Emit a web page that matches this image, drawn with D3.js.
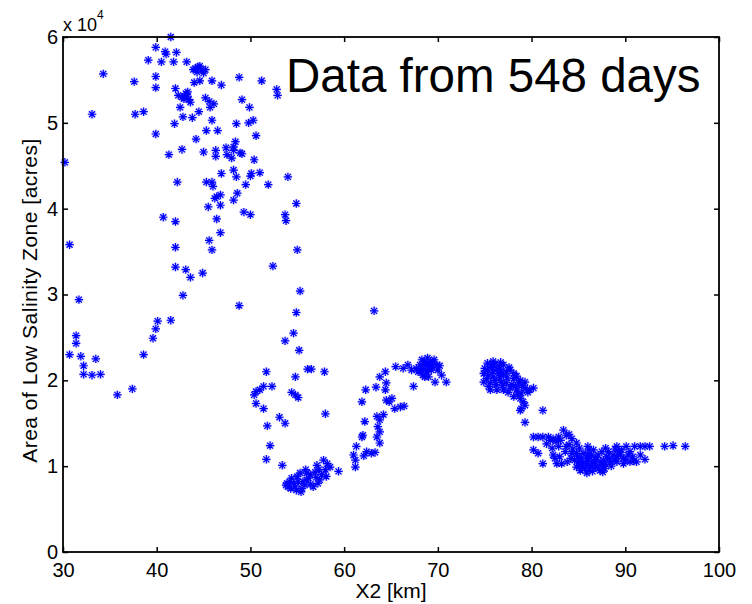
<!DOCTYPE html>
<html>
<head>
<meta charset="utf-8" />
<title>Low Salinity Zone area vs X2</title>
<script src="https://d3js.org/d3.v7.min.js"></script>
<style>
  body { margin: 0; background: #fff; }
  svg text { font-family: "Liberation Sans", Arial, Helvetica, sans-serif; fill: #000; }
</style>
</head>
<body>
<div id="chart"></div>
<script>
// axis limits and ticks (area in units of 10^4 acres)
var xDomain = [30, 100];
var yDomain = [0, 6];
var xTicks = [30, 40, 50, 60, 70, 80, 90, 100];
var yTicks = [0, 1, 2, 3, 4, 5, 6];

// [X2 km, area 10^4 acres], by region
var upstreamCloud = [
  [41.5,6.00],[39.9,5.88],[40.9,5.83],[41.0,5.80],[42.1,5.82],[39.1,5.73],[40.5,5.71],[41.8,5.71],[43.2,5.71],
  [34.3,5.57],[37.6,5.48],[39.9,5.54],[39.9,5.41],[43.9,5.62],[44.4,5.65],[44.8,5.62],[44.3,5.59],[45.2,5.62],
  [44.6,5.49],[44.0,5.47],[45.9,5.49],[42.0,5.40],[42.3,5.32],[42.7,5.30],[43.1,5.34],[42.9,5.28],[43.4,5.27],
  [43.6,5.24],[43.3,5.36],[42.5,5.18],[45.2,5.29],[45.6,5.25],[45.7,5.18],[46.1,5.22],[44.5,5.13],[33.1,5.10],
  [37.7,5.10],[38.6,5.13],[42.8,5.07],[43.8,5.06],[45.9,5.03],[41.9,4.99],[39.9,4.87],[45.3,4.91],[44.2,4.81],
  [46.5,4.91],[42.7,4.69],[41.3,4.63],[45.0,4.66],[46.3,4.68],[46.3,4.61],[30.2,4.54],[42.2,4.31],[45.3,4.31],
  [45.9,4.31],[46.0,4.26],[48.8,5.53],[51.2,5.49],[52.8,5.39],[52.9,5.32],[49.1,5.27],[49.9,5.18],[46.9,5.44],
  [48.5,4.99],[49.8,5.00],[50.3,5.03],[50.6,4.85],[47.4,4.71],[47.5,4.63],[48.2,4.72],[48.4,4.78],[48.9,4.65],
  [48.0,4.59],[48.2,4.68],[49.1,4.64],[50.4,4.57],[46.9,4.41],[48.2,4.45],[48.5,4.37],[50.1,4.41],[51.0,4.42],
  [50.0,4.38],[49.5,4.28],[51.9,4.28],[54.0,4.37],[46.4,4.14],[46.8,4.16],[46.2,4.12],[45.5,4.02],[46.8,4.04],
  [48.2,4.10],[48.6,4.18],[49.3,3.96],[50.0,3.93],[53.7,3.93],[53.8,3.86],[46.4,3.88],[40.7,3.90],[42.0,3.85],
  [54.9,4.06],[45.6,3.63],[46.8,3.72],[30.7,3.58],[42.0,3.55],[45.9,3.52],[42.0,3.32],[43.1,3.29],[43.6,3.20],
  [44.9,3.25],[52.4,3.33],[55.0,3.52],[44.6,5.66],[45.0,5.58],[44.1,5.63],[43.0,5.30],[43.3,5.31]
];

var fallingLimb = [
  [31.7,2.94],[42.8,2.99],[48.8,2.87],[55.3,3.04],[54.9,2.79],[40.1,2.69],[41.5,2.70],[39.9,2.60],[39.6,2.49],
  [31.4,2.52],[31.4,2.43],[54.6,2.55],[53.7,2.46],[55.2,2.35],[30.7,2.30],[31.9,2.28],[32.2,2.17],[33.5,2.25],
  [32.2,2.07],[33.1,2.06],[34.0,2.07],[38.6,2.30],[51.7,2.10],[51.4,1.93],[52.3,1.93],[51.0,1.89],[50.4,1.83],
  [54.8,2.04],[54.4,1.86],[54.8,1.83],[55.1,1.80],[35.8,1.83],[37.4,1.90],[56.1,2.13],[63.2,2.81],[56.5,2.13],
  [57.9,2.10],[50.6,1.87],[50.6,1.73],[51.4,1.67],[58.0,1.61],[53.1,1.57],[53.7,1.50],[51.8,1.47],[52.1,1.24],
  [51.7,1.08],[53.4,1.01]
];

var lowTrough = [
  [53.9,0.80],[54.4,0.86],[54.8,0.76],[55.3,0.92],[55.5,0.74],[56.0,0.84],[56.4,0.90],[56.7,0.76],[57.1,1.01],
  [57.4,0.84],[57.8,1.07],[58.0,0.96],[58.1,0.88],[58.5,0.99],[59.4,0.94],[57.2,0.80],[55.6,0.82],[54.0,0.76],
  [54.2,0.82],[55.1,0.82],[56.4,0.79],[57.6,0.90],[58.2,1.03],[56.0,0.92],[54.9,0.72],[55.4,0.70],
  [54.6,0.80],[55.0,0.88],[55.8,0.78],[56.2,0.86],[56.9,0.93],[57.3,0.96],[54.3,0.74],[55.9,0.96],[57.0,0.87],
  [53.8,0.78]
];

var risingCurve = [
  [61.2,0.99],[61.0,1.13],[61.3,1.23],[61.9,1.34],[62.0,1.36],[62.4,1.17],[62.9,1.15],[63.3,1.16],[61.2,1.07],
  [62.1,1.12],[62.2,1.52],[61.9,1.75],[63.5,1.58],[63.8,1.54],[63.6,1.46],[63.8,1.40],[63.5,1.34],[63.8,1.27],
  [64.2,1.60],[62.3,1.89],[63.4,1.92],[63.8,2.04],[64.4,2.10],[64.4,1.89],[64.5,1.77],[65.1,1.79],[65.4,1.67],
  [66.0,1.69],[66.4,1.70],[64.8,1.75],[64.5,1.97],[65.5,2.16],[66.3,2.14],[66.8,2.18],[67.2,2.12],[67.4,1.93],
  [67.7,2.14],[68.1,2.18],[68.3,2.11],[68.6,2.22],[68.9,2.26],[69.0,2.04],[69.2,2.16],[69.5,2.20],[69.9,2.18],
  [70.4,2.06],[69.7,1.98],[70.9,1.98],[68.4,2.06],[67.9,2.10],[68.4,2.16],[68.8,2.10],[69.3,2.12],[68.3,2.24],
  [69.2,2.22],[68.6,2.04],[70.0,2.12],[68.7,2.18],[69.0,2.13],[69.4,2.16],[68.1,2.12],[69.6,2.24],[68.9,2.20],
  [70.2,2.17]
];

var seawardUpper = [
  [75.0,2.14],[75.6,2.18],[76.1,2.19],[76.6,2.16],[77.0,2.18],[74.9,2.08],[75.4,2.06],[75.9,2.10],[76.5,2.08],
  [77.0,2.06],[77.7,2.12],[78.1,2.02],[74.9,1.98],[75.6,1.97],[76.1,2.00],[76.8,1.98],[77.3,1.97],[78.6,1.97],
  [75.6,1.89],[76.3,1.89],[77.0,1.89],[77.7,1.91],[78.4,1.89],[79.3,1.91],[79.8,1.89],[80.2,1.91],[78.9,1.85],
  [78.1,1.81],[78.8,1.79],[79.1,1.75],[79.3,1.71],[78.9,1.67],[78.8,1.65],[81.2,1.65],[79.3,1.51],[77.3,2.10],
  [78.1,2.08],[78.8,2.00],[79.3,1.98],[75.3,2.12],[75.8,2.15],[76.3,2.13],[76.8,2.11],[75.2,2.02],[75.9,2.04],
  [76.6,2.03],[77.4,2.03],[77.9,1.95],[78.3,1.93],[76.9,1.94],[76.2,1.95],[75.4,1.93],[77.5,1.86],[78.5,1.84],
  [79.6,1.86],[76.7,2.21],[75.9,2.22],[75.3,2.20],[77.6,2.15],[78.4,2.05],[79.0,1.94]
];

var seawardLower = [
  [80.2,1.34],[80.7,1.34],[81.2,1.34],[81.8,1.34],[82.3,1.32],[82.9,1.34],[83.4,1.42],[83.7,1.36],[84.3,1.32],
  [84.8,1.27],[80.2,1.19],[80.7,1.15],[81.2,1.03],[82.2,1.21],[82.3,1.13],[83.0,1.11],[83.2,1.03],[82.9,1.23],
  [83.7,1.23],[84.3,1.15],[84.8,1.15],[85.3,1.09],[85.9,1.03],[86.4,1.13],[86.9,1.07],[87.5,1.01],[88.0,1.11],
  [88.4,1.05],[85.2,1.01],[85.7,0.97],[86.2,0.97],[86.8,0.99],[87.3,0.95],[87.8,0.97],[86.6,1.19],[87.5,1.17],
  [86.1,1.19],[84.6,1.07],[85.5,1.15],[87.1,1.13],[88.2,1.17],[88.5,1.00],[86.1,1.07],[87.7,1.07],[85.2,0.95],
  [89.1,1.23],[89.6,1.19],[90.1,1.23],[90.5,1.17],[91.0,1.23],[91.6,1.23],[92.1,1.23],[92.6,1.23],[89.1,1.11],
  [89.8,1.09],[90.3,1.13],[90.8,1.11],[89.8,1.03],[91.2,1.05],[92.1,1.08],[89.3,1.17],[94.2,1.23],[95.1,1.24],
  [96.4,1.23],[82.0,1.30],[82.6,1.29],[84.0,1.25],[83.6,1.17],[82.7,1.03],[84.8,0.99],[85.5,1.05],[86.4,1.03],
  [88.7,1.13],[89.1,1.05],[90.5,1.05],[91.6,1.13],[84.9,1.11],[85.4,1.00],[85.9,1.09],[86.3,1.01],[86.7,1.05],
  [87.0,0.99],[87.4,1.05],[87.9,1.02],[88.3,1.09],[86.0,1.13],[86.8,1.10],[85.0,1.04],[84.2,1.09],[83.8,1.05],
  [88.9,1.07],[89.5,1.13],[90.0,1.07],[90.9,1.06],[86.5,0.94],[87.6,0.93],[85.9,0.92],[84.4,1.20],[85.1,1.21],
  [86.0,1.23],[87.9,1.21],[88.9,1.20],[82.5,1.09],[81.6,1.26],[83.1,1.30],[84.0,1.37]
];

var allPoints = upstreamCloud.concat(fallingLimb, lowTrough, risingCurve, seawardUpper, seawardLower);

var width = 752, height = 604;
var plotLeft = 63, plotRight = 719, plotTop = 37, plotBottom = 552;

var svg = d3.select("#chart").append("svg")
  .attr("width", width)
  .attr("height", height);

var x = d3.scaleLinear().domain(xDomain).range([plotLeft, plotRight]);
var y = d3.scaleLinear().domain(yDomain).range([plotBottom, plotTop]);

// markers: MATLAB style '*'
var star = "M-4.2,0H4.2M0,-4.2V4.2M-3,-3L3,3M-3,3L3,-3";
var marks = svg.append("g");
marks.selectAll("path.halo").data(allPoints).enter().append("path")
  .attr("class", "halo")
  .attr("d", star)
  .attr("transform", function(d){ return "translate(" + x(d[0]) + "," + y(d[1]) + ")"; })
  .style("fill", "none")
  .style("stroke", "#7a7aff")
  .style("stroke-opacity", 0.3)
  .style("stroke-width", 3.2);
marks.selectAll("path.core").data(allPoints).enter().append("path")
  .attr("class", "core")
  .attr("d", star)
  .attr("transform", function(d){ return "translate(" + x(d[0]) + "," + y(d[1]) + ")"; })
  .style("fill", "none")
  .style("stroke", "#0000ff")
  .style("stroke-width", 1.2);

// axes with inward ticks on all four sides
var fontSize = "20px";
svg.append("g").attr("transform", "translate(0," + plotBottom + ")")
  .call(d3.axisBottom(x).tickValues(xTicks).tickSize(-5).tickSizeOuter(0).tickPadding(11));
svg.append("g").attr("transform", "translate(" + plotLeft + ",0)")
  .call(d3.axisLeft(y).tickValues(yTicks).tickFormat(d3.format("d")).tickSize(-5).tickSizeOuter(0).tickPadding(5));
svg.append("g").attr("transform", "translate(0," + plotTop + ")")
  .call(d3.axisTop(x).tickValues(xTicks).tickSize(-5).tickSizeOuter(0).tickFormat(""));
svg.append("g").attr("transform", "translate(" + plotRight + ",0)")
  .call(d3.axisRight(y).tickValues(yTicks).tickSize(-5).tickSizeOuter(0).tickFormat(""));

svg.selectAll(".domain").remove();
svg.selectAll(".tick line").style("stroke", "#000").style("stroke-width", 1.5);
svg.selectAll(".tick text").style("font-size", fontSize)
  .style("font-family", "'Liberation Sans', Arial, sans-serif").attr("fill", "#000");

svg.append("rect")
  .attr("x", plotLeft).attr("y", plotTop)
  .attr("width", plotRight - plotLeft).attr("height", plotBottom - plotTop)
  .style("fill", "none").style("stroke", "#000").style("stroke-width", 1.8);

// exponent
var expo = svg.append("text").attr("x", plotLeft).attr("y", 31).style("font-size", "18px");
expo.append("tspan").text("x 10");
expo.append("tspan").attr("dy", -12).style("font-size", "12px").text("4");

// axis titles
svg.append("text")
  .attr("x", (plotLeft + plotRight) / 2).attr("y", 598)
  .attr("text-anchor", "middle")
  .style("font-size", "21px")
  .text("X2 [km]");
svg.append("text")
  .attr("transform", "translate(37," + ((plotTop + plotBottom) / 2 + 6) + ") rotate(-90)")
  .attr("text-anchor", "middle")
  .style("font-size", "21px")
  .style("letter-spacing", "0.5px")
  .text("Area of Low Salinity Zone [acres]");

// annotation
svg.append("text")
  .attr("x", 286).attr("y", 92)
  .style("font-size", "47.5px")
  .text("Data from 548 days");
</script>
</body>
</html>
